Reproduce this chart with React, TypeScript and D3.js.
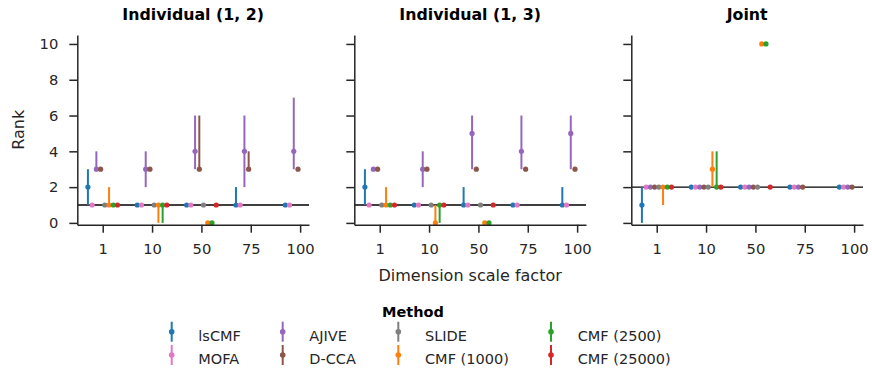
import { useEffect, useRef } from "react";
import * as d3 from "d3";

const width = 872;
const height = 369;

// plot panels (left edge of each axes, shared size)
const panelLefts = [77.3, 354.3, 631.3];
const panelWidth = 231.7;
const plotTop = 35;
const plotBottom = 224.7;

const panelTitles = ["Individual (1, 2)", "Individual (1, 3)", "Joint"];
const trueRank = [1, 1, 2];
const scaleFactors = ["1", "10", "50", "75", "100"];

const methods = [
  "lsCMF",
  "MOFA",
  "AJIVE",
  "D-CCA",
  "SLIDE",
  "CMF (1000)",
  "CMF (2500)",
  "CMF (25000)",
];
const methodColors = [
  "#1f77b4",
  "#e377c2",
  "#9467bd",
  "#8c564b",
  "#7f7f7f",
  "#ff7f0e",
  "#2ca02c",
  "#d62728",
];

type Cell = number | null;

// rows = methods, columns = scale factors
const ind12Median: Cell[][] = [
  [2, 1, 1, 1, 1],
  [1, 1, 1, 1, 1],
  [3, 3, 4, 4, 4],
  [3, 3, 3, 3, 3],
  [1, 1, 1, null, null],
  [1, 1, 0, null, null],
  [1, 1, 0, null, null],
  [1, 1, 1, null, null],
];
const ind12Low: Cell[][] = [
  [1, 1, 1, 1, 1],
  [1, 1, 1, 1, 1],
  [3, 2, 3, 2, 3],
  [3, 3, 3, 3, 3],
  [1, 1, 1, null, null],
  [1, 0, 0, null, null],
  [1, 0, 0, null, null],
  [1, 1, 1, null, null],
];
const ind12High: Cell[][] = [
  [3, 1, 1, 2, 1],
  [1, 1, 1, 1, 1],
  [4, 4, 6, 6, 7],
  [3, 3, 6, 4, 3],
  [1, 1, 1, null, null],
  [2, 1, 0, null, null],
  [1, 1, 0, null, null],
  [1, 1, 1, null, null],
];

const ind13Median: Cell[][] = [
  [2, 1, 1, 1, 1],
  [1, 1, 1, 1, 1],
  [3, 3, 5, 4, 5],
  [3, 3, 3, 3, 3],
  [1, 1, 1, null, null],
  [1, 0, 0, null, null],
  [1, 1, 0, null, null],
  [1, 1, 1, null, null],
];
const ind13Low: Cell[][] = [
  [1, 1, 1, 1, 1],
  [1, 1, 1, 1, 1],
  [3, 2, 3, 3, 3],
  [3, 3, 3, 3, 3],
  [1, 1, 1, null, null],
  [1, 0, 0, null, null],
  [1, 0, 0, null, null],
  [1, 1, 1, null, null],
];
const ind13High: Cell[][] = [
  [3, 1, 2, 1, 2],
  [1, 1, 1, 1, 1],
  [3, 4, 6, 6, 6],
  [3, 3, 3, 3, 3],
  [1, 1, 1, null, null],
  [2, 1, 0, null, null],
  [1, 1, 0, null, null],
  [1, 1, 1, null, null],
];

const jointMedian: Cell[][] = [
  [1, 2, 2, 2, 2],
  [2, 2, 2, 2, 2],
  [2, 2, 2, 2, 2],
  [2, 2, 2, 2, 2],
  [2, 2, 2, null, null],
  [2, 3, 10, null, null],
  [2, 2, 10, null, null],
  [2, 2, 2, null, null],
];
const jointLow: Cell[][] = [
  [0, 2, 2, 2, 2],
  [2, 2, 2, 2, 2],
  [2, 2, 2, 2, 2],
  [2, 2, 2, 2, 2],
  [2, 2, 2, null, null],
  [1, 2, 10, null, null],
  [2, 2, 10, null, null],
  [2, 2, 2, null, null],
];
const jointHigh: Cell[][] = [
  [2, 2, 2, 2, 2],
  [2, 2, 2, 2, 2],
  [2, 2, 2, 2, 2],
  [2, 2, 2, 2, 2],
  [2, 2, 2, null, null],
  [2, 4, 10, null, null],
  [2, 4, 10, null, null],
  [2, 2, 2, null, null],
];

const panelMedians = [ind12Median, ind13Median, jointMedian];
const panelLows = [ind12Low, ind13Low, jointLow];
const panelHighs = [ind12High, ind13High, jointHigh];

const yTicks = [0, 2, 4, 6, 8, 10];

const font = "'DejaVu Sans', sans-serif";
const ink = "#262626";

// legend layout: 4 columns x 2 rows
const legendCols = [
  { marker: 171.7, text: 198.3 },
  { marker: 282.7, text: 309.3 },
  { marker: 398.3, text: 425 },
  { marker: 551, text: 577.7 },
];
const legendRows = [
  { marker: 331.7, text: 340.7 },
  { marker: 355, text: 364 },
];

export default function App() {
  const svgRef = useRef<SVGSVGElement | null>(null);

  useEffect(() => {
    if (!svgRef.current) return;
    const svg = d3.select(svgRef.current);
    svg.selectAll("*").remove();

    const y = d3.scaleLinear().domain([-0.1, 10.5]).range([plotBottom, plotTop]);
    const dodgeWidth = 0.6;
    const dodgeStep = dodgeWidth / (methods.length - 1);

    panelLefts.forEach((left, p) => {
      const x = d3
        .scaleLinear()
        .domain([-0.515, 4.18])
        .range([left, left + panelWidth]);
      const g = svg.append("g");

      // 真實 rank 參考線
      g.append("line")
        .attr("x1", left)
        .attr("x2", left + panelWidth)
        .attr("y1", y(trueRank[p]))
        .attr("y2", y(trueRank[p]))
        .attr("stroke", "#000")
        .attr("stroke-width", 1.4);

      methods.forEach((_, m) => {
        const rows = scaleFactors
          .map((_, c) => ({
            c,
            med: panelMedians[p][m][c],
            lo: panelLows[p][m][c],
            hi: panelHighs[p][m][c],
          }))
          .filter((d) => d.med !== null);
        const cx = (c: number) => x(c - dodgeWidth / 2 + m * dodgeStep);

        g.selectAll(null)
          .data(rows.filter((d) => d.lo !== d.hi))
          .join("line")
          .attr("x1", (d) => cx(d.c))
          .attr("x2", (d) => cx(d.c))
          .attr("y1", (d) => y(d.lo as number))
          .attr("y2", (d) => y(d.hi as number))
          .attr("stroke", methodColors[m])
          .attr("stroke-width", 2);

        g.selectAll(null)
          .data(rows)
          .join("circle")
          .attr("cx", (d) => cx(d.c))
          .attr("cy", (d) => y(d.med as number))
          .attr("r", 2.6)
          .attr("fill", methodColors[m]);
      });

      // x 軸
      const xAxis = g
        .append("g")
        .attr("transform", `translate(0, ${plotBottom})`)
        .call(
          d3
            .axisBottom(x)
            .tickValues([0, 1, 2, 3, 4])
            .tickFormat((d) => scaleFactors[d as number])
            .tickSize(8)
            .tickSizeOuter(0)
            .tickPadding(11),
        );

      // y 軸
      const yAxis = g
        .append("g")
        .attr("transform", `translate(${left}, 0)`)
        .call(
          d3
            .axisLeft(y)
            .tickValues(yTicks)
            .tickFormat((d) => (p === 0 ? String(d) : ""))
            .tickSize(8)
            .tickSizeOuter(0)
            .tickPadding(11),
        );

      [xAxis, yAxis].forEach((ax) => {
        ax.select(".domain").attr("stroke", ink).attr("stroke-width", 1.5);
        ax.selectAll("line").attr("stroke", ink).attr("stroke-width", 1.5);
        ax.selectAll("text")
          .attr("fill", ink)
          .style("font-family", font)
          .style("font-size", "14.7px");
      });

      g.append("text")
        .text(panelTitles[p])
        .attr("x", left + panelWidth / 2)
        .attr("y", 19.5)
        .attr("text-anchor", "middle")
        .attr("fill", "#000")
        .style("font-family", font)
        .style("font-size", "15.8px")
        .style("font-weight", "bold");
    });

    // 軸標題
    svg
      .append("text")
      .text("Dimension scale factor")
      .attr("x", panelLefts[1] + panelWidth / 2)
      .attr("y", 281)
      .attr("text-anchor", "middle")
      .attr("fill", ink)
      .style("font-family", font)
      .style("font-size", "16px");

    svg
      .append("text")
      .text("Rank")
      .attr("transform", `translate(24, ${(plotTop + plotBottom) / 2}) rotate(-90)`)
      .attr("text-anchor", "middle")
      .attr("fill", ink)
      .style("font-family", font)
      .style("font-size", "16px");

    // 圖例
    const legend = svg.append("g");
    legend
      .append("text")
      .text("Method")
      .attr("x", 413)
      .attr("y", 316.7)
      .attr("text-anchor", "middle")
      .attr("fill", "#000")
      .style("font-family", font)
      .style("font-size", "14.5px")
      .style("font-weight", "bold");

    methods.forEach((name, m) => {
      const col = legendCols[Math.floor(m / 2)];
      const row = legendRows[m % 2];
      legend
        .append("line")
        .attr("x1", col.marker)
        .attr("x2", col.marker)
        .attr("y1", row.marker - 10)
        .attr("y2", row.marker + 10)
        .attr("stroke", methodColors[m])
        .attr("stroke-width", 2);
      legend
        .append("circle")
        .attr("cx", col.marker)
        .attr("cy", row.marker)
        .attr("r", 2.8)
        .attr("fill", methodColors[m]);
      legend
        .append("text")
        .text(name)
        .attr("x", col.text)
        .attr("y", row.text)
        .attr("fill", ink)
        .style("font-family", font)
        .style("font-size", "14.5px");
    });
  }, []);

  return (
    <svg
      ref={svgRef}
      width={width}
      height={height}
      viewBox={`0 0 ${width} ${height}`}
      style={{ position: "absolute", left: 0, top: 0, background: "#fff" }}
    />
  );
}
